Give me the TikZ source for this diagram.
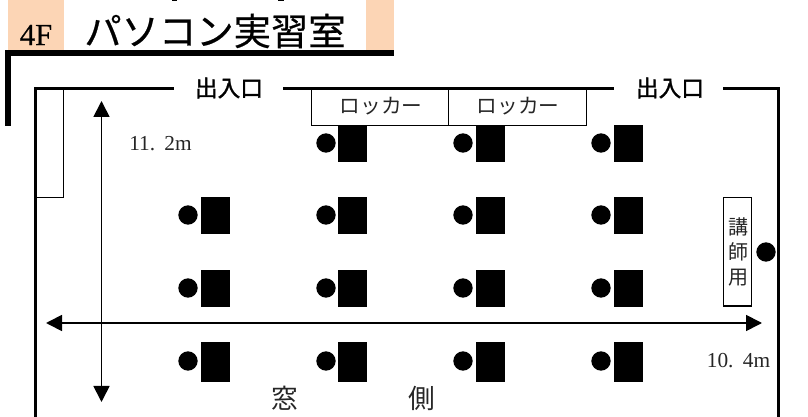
\documentclass[tikz,border=0pt]{standalone}
\usepackage{fontspec}
\setmainfont{Noto Sans CJK JP}
\newfontfamily\boldjp[FakeBold=1.5]{Noto Sans CJK JP}
\newfontfamily\titlejp[FakeBold=0.6]{Noto Sans CJK JP}
\newfontfamily\latinfont{Liberation Serif}
\newfontfamily\floorfont[FakeBold=0.6]{Liberation Serif}
\usepackage{xcolor}
\usepackage{tikz}
\usetikzlibrary{arrows.meta}
\definecolor{peach}{HTML}{FCD5B5}
\tikzset{
    wall/.style={draw=black, line width=2.3pt},
    thinbox/.style={draw=black, line width=0.8pt},
    span/.style={line width=1.3pt, {Triangle[length=12pt,width=12pt]}-{Triangle[length=12pt,width=12pt]}},
    seat/.style={circle, fill=black, inner sep=0pt, minimum size=14.5pt},
    desk/.style={fill=black},
    label/.style={font=\fontsize{15.5}{15.5}\selectfont, text=black!85, inner sep=0pt},
    dimen/.style={font=\latinfont\fontsize{16}{16}\selectfont, text=black!85, inner sep=0pt},
    door/.style={font=\boldjp\fontsize{17}{17}\selectfont, inner sep=0pt}
}

\begin{document}
\begin{tikzpicture}[x=0.75pt, y=-0.75pt]
    \useasboundingbox (0,0) rectangle (808,417);
    % title
    \fill[peach] (8,0) rectangle (64,50);
    \fill[peach] (366,0) rectangle (394,50);
    \fill (172,0) rectangle (177,1.5);
    \fill (278,0) rectangle (284,1.5);
    \node[font=\floorfont\fontsize{23}{23}\selectfont, inner sep=0pt] (floor) at (36,35) {4F};
    \node[font=\titlejp\fontsize{28}{28}\selectfont, inner sep=0pt] (room) at (215,31) {パソコン実習室};
    \fill (5,50) rectangle (394,56);
    \fill (5,50) rectangle (11,126);
    % walls
    \node[door] (doorA) at (229,88) {出入口};
    \node[door] (doorB) at (670,88) {出入口};
    \draw[wall] (35.5,417) -- (35.5,88.5) -- (174,88.5);
    \draw[wall] (283,88.5) -- (614,88.5);
    \draw[wall] (723,88.5) -- (778.5,88.5) -- (778.5,417);
    % cupboard and lockers
    \draw[thinbox] (35.5,88.5) rectangle (63.5,197.5);
    \draw[thinbox] (311.5,88.5) rectangle (448.5,125.5);
    \draw[thinbox] (448.5,88.5) rectangle (586.5,125.5);
    \node[label] (lockerA) at (381,106) {ロッカー};
    \node[label] (lockerB) at (518,106) {ロッカー};
    % seats
    \foreach \y/\h in {125/36,197/36,270/36,342/39}
        \foreach \x in {338,476,614}
            \filldraw[desk] (\x,\y) rectangle (\x+28,\y+\h);
    \foreach \y/\h in {197/36,270/36,342/39}
        \filldraw[desk] (201,\y) rectangle (229,\y+\h);
    \foreach \y in {215,288,361}
        \node[seat] (s\y) at (188,\y) {};
    \foreach \y in {143,215,288,361}
        \foreach \x in {326,463,601}
            \node[seat] (s\x\y) at (\x,\y) {};
    % teacher
    \draw[thinbox] (723.5,197.5) rectangle (751.5,306);
    \node[label, align=center, font=\fontsize{15}{18.75}\selectfont] (teacher) at (738,252) {講\\師\\用};
    \node[seat] (tseat) at (766,252) {};
    % dimensions
    \coordinate (top) at (101.5,101);
    \coordinate (bottom) at (101.5,402);
    \coordinate (west) at (46,323);
    \coordinate (east) at (762,323);
    \draw[span] (top) -- (bottom);
    \draw[span] (west) -- (east);
    \node[dimen] (height) at (160.5,144) {11.\hspace{7pt}2m};
    \node[dimen] (width) at (738.5,361) {10.\hspace{7pt}4m};
    % window
    \node[label, font=\fontsize{20}{20}\selectfont] (winA) at (285,398) {窓};
    \node[label, font=\fontsize{20}{20}\selectfont] (winB) at (422,398) {側};
\end{tikzpicture}
\end{document}
